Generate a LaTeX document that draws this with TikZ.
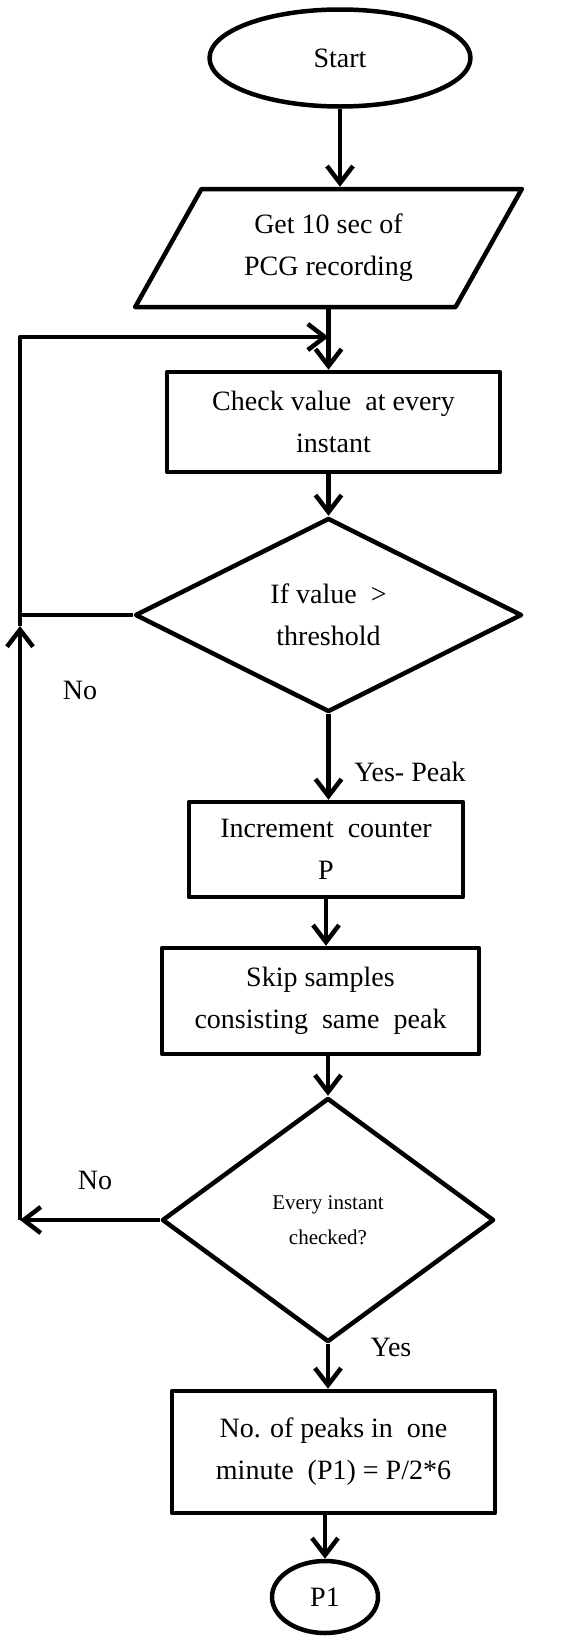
\documentclass[tikz,border=0pt]{standalone}
\usepackage{fontspec}
\setmainfont{Liberation Serif}
\usetikzlibrary{shapes.geometric,arrows.meta}
\begin{document}
\begin{tikzpicture}[x=1pt,y=-1pt,
  line width=4.5pt, line join=round,
  every node/.style={font=\fontsize{28}{42}\selectfont, inner sep=0pt, align=center},
  box/.style={draw, rectangle},
  oval/.style={draw, ellipse},
  dec/.style={draw, diamond},
  io/.style={draw, trapezium, trapezium left angle=57, trapezium right angle=123, trapezium stretches=true},
  lbl/.style={font=\fontsize{28}{34}\selectfont},
  arr/.style={-{Straight Barb[length=17pt,width=26pt]}}
]
\useasboundingbox (0,0) rectangle (560,1638);

\node[oval, minimum width=261pt, minimum height=97pt] (start) at (340,58) {Start};
\node[io, minimum width=387pt, minimum height=118pt] (get) at (328.5,248) {Get 10 sec of\\PCG recording};
\node[box, minimum width=333pt, minimum height=100pt] (check) at (333.5,422) {Check value \ at every\\instant};
\node[dec, aspect=2, minimum width=387pt, minimum height=194pt] (dec1) at (328.5,615) {If value \ >\\threshold};
\node[box, minimum width=274pt, minimum height=95pt] (inc) at (326,849.5) {Increment \ counter\\P};
\node[box, minimum width=317pt, minimum height=106pt] (skip) at (320.5,1001) {Skip samples\\consisting \ same \ peak};
\node[dec, aspect=1.4, minimum width=332pt, minimum height=244pt, font=\fontsize{21}{35}\selectfont] (dec2) at (328,1220) {Every instant\\checked?};
\node[box, minimum width=323pt, minimum height=122pt] (result) at (333.5,1452) {No. of peaks in \ one\\minute \ (P1) = P/2*6};
\node[oval, minimum width=106pt, minimum height=72pt] (end) at (325,1597) {P1};

\node[lbl] (no1) at (80,690) {No};
\node[lbl] (yes1) at (410,772) {Yes- Peak};
\node[lbl] (no2) at (95,1180) {No};
\node[lbl] (yes2) at (391,1347) {Yes};

\coordinate (lt) at (20,337);
\coordinate (lm) at (20,626);

\draw[arr] (start.south) -- (start.south |- get.north);
\draw[arr] (get.south) -- (get.south |- check.north);
\draw[arr] (check.south -| dec1.north) -- (dec1.north);
\draw[arr] (dec1.south) -- (dec1.south |- inc.north);
\draw[arr] (inc.south) -- (inc.south |- skip.north);
\draw[arr] (skip.south -| dec2.north) -- (dec2.north);
\draw[arr] (dec2.south) -- (dec2.south |- result.north);
\draw[arr] (result.south -| end.north) -- (end.north);

\draw (dec1.west) -- (dec1.west -| lt);
\draw[arr] (dec2.west) -- (dec2.west -| lt);
\draw[arr] (dec2.west -| lt) -- (lm);
\draw[arr] (lm) -- (lt) -- (lt -| get.south);
\end{tikzpicture}
\end{document}
